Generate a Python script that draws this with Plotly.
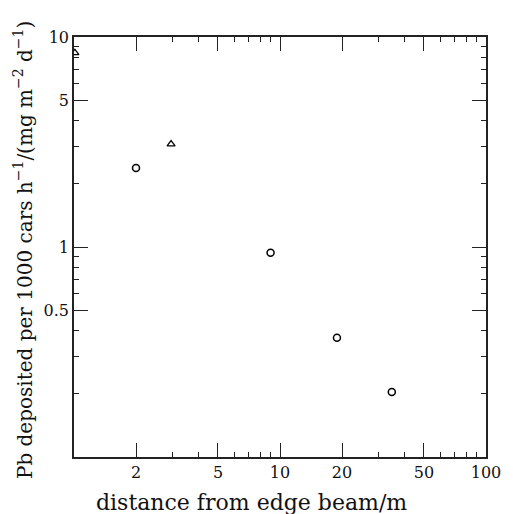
import plotly.graph_objects as go

# data
circle_x = [2.0, 9.0, 18.9, 34.9]
circle_y = [2.38, 0.94, 0.37, 0.204]
triangle_x = [1.01, 2.96]
triangle_y = [8.4, 3.09]

x_major = [2, 5, 10, 20, 50, 100]
x_major_text = ["2", "5", "10", "20", "50", "100"]
x_minor = [3, 4, 6, 7, 8, 9, 30, 40, 60, 70, 80, 90]
y_major = [0.5, 1, 5, 10]
y_major_text = ["0.5", "1", "5", "10"]
y_minor = [0.2, 0.3, 0.4, 0.6, 0.7, 0.8, 0.9, 2, 3, 4, 6, 7, 8, 9]

x_title = "distance from edge beam/m"
y_title = "Pb deposited per 1000 cars h<sup>−1</sup>/(mg m<sup>−2</sup> d<sup>−1</sup>)"

font_family = "DejaVu Serif, Liberation Serif, serif"

fig = go.Figure()
fig.add_trace(go.Scatter(
    x=circle_x, y=circle_y, mode="markers",
    marker=dict(symbol="circle-open", size=7, color="black", line=dict(width=1.5)),
    cliponaxis=False, showlegend=False))
fig.add_trace(go.Scatter(
    x=triangle_x, y=triangle_y, mode="markers",
    marker=dict(symbol="triangle-up-open", size=7, color="black", line=dict(width=1.3)),
    cliponaxis=True, showlegend=False))

axis_common = dict(
    type="log", showgrid=False, zeroline=False,
    showline=True, linecolor="#222", linewidth=1.5, mirror="allticks",
    ticks="inside", tickcolor="#222", tickwidth=1.3, ticklen=14,
    tickfont=dict(family=font_family, size=16, color="#111"),
)

# page body has an 8px default margin, so the figure is 8px smaller
fig.update_layout(
    width=505, height=506,
    margin=dict(l=66, r=18, t=29, b=57),
    paper_bgcolor="white", plot_bgcolor="white",
    xaxis=dict(
        **axis_common,
        range=[0, 2],
        tickvals=x_major, ticktext=x_major_text,
        minor=dict(tickvals=x_minor, ticks="inside", ticklen=5, tickcolor="#222", tickwidth=1.2),
    ),
    yaxis=dict(
        **axis_common,
        range=[-1, 1],
        tickvals=y_major, ticktext=y_major_text,
        minor=dict(tickvals=y_minor, ticks="inside", ticklen=5, tickcolor="#222", tickwidth=1.2),
    ),
    annotations=[
        dict(text=x_title, xref="paper", yref="paper", x=0.432, y=-0.1095,
             xanchor="center", yanchor="middle", showarrow=False,
             font=dict(family=font_family, size=22, color="#111")),
        dict(text=y_title, xref="paper", yref="paper", x=-0.1235, y=0.493,
             xanchor="center", yanchor="middle", textangle=-90, showarrow=False,
             font=dict(family=font_family, size=20, color="#111")),
    ],
)

fig.write_html("out.html")
